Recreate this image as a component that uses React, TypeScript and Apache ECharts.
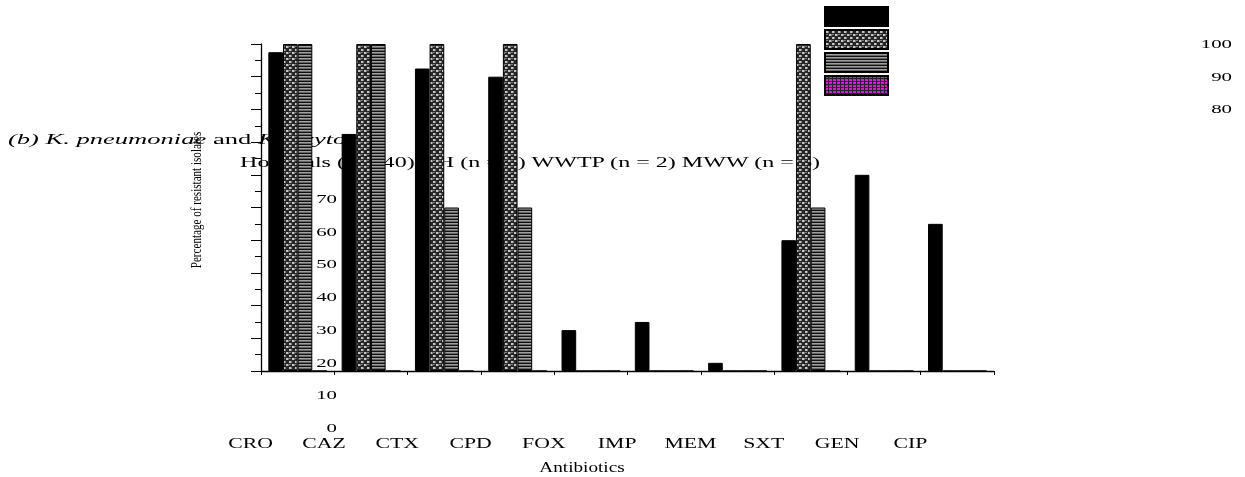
import React, { useEffect, useRef } from "react";
import * as echarts from "echarts";

const categories = ["CRO", "CAZ", "CTX", "CPD", "FOX", "IMP", "MEM", "SXT", "GEN", "CIP"];
const seriesNames = ["Hospitals (n = 40)", "CH (n = 4)", "WWTP (n = 2)", "MWW (n = 6)"];
const hospitals = [97.5, 72.5, 92.5, 90, 12.5, 15, 2.5, 40, 60, 45];
const ch = [100, 100, 100, 100, 0, 0, 0, 100, 0, 0];
const wwtp = [100, 100, 50, 50, 0, 0, 0, 50, 0, 0];
const mww = [0, 0, 0, 0, 0, 0, 0, 0, 0, 0];
const rightTickLabels = [100, 90, 80];
const leftTickLabels = [70, 60, 50, 40, 30, 20, 10, 0];
const legendLine = "Hospitals (n = 40) CH (n = 4) WWTP (n = 2) MWW (n = 6)";
const titleText = "{i|(b) K. pneumoniae} and {i|K. oxytoca}";
const yTitle = "Percentage of resistant isolates";
const xTitle = "Antibiotics";

const FONT = "Liberation Serif";

function makePattern(w: number, h: number, draw: (ctx: CanvasRenderingContext2D) => void) {
  const c = document.createElement("canvas");
  c.width = w;
  c.height = h;
  const ctx = c.getContext("2d") as CanvasRenderingContext2D;
  draw(ctx);
  return { image: c, repeat: "repeat", imageWidth: w, imageHeight: h };
}

export default function App() {
  const ref = useRef<HTMLDivElement>(null);
  useEffect(() => {
    if (!ref.current) return;
    const chart = echarts.init(ref.current, null, { renderer: "svg" });

    const cross = makePattern(6, 6, (ctx) => {
      ctx.fillStyle = "#262626";
      ctx.fillRect(0, 0, 6, 6);
      ctx.fillStyle = "#c4c4c4";
      ctx.fillRect(1, 1, 2, 2);
      ctx.fillRect(4, 4, 2, 2);
      ctx.fillStyle = "#7a7a7a";
      ctx.fillRect(3, 1, 1, 2);
      ctx.fillRect(0, 4, 1, 2);
      ctx.fillRect(1, 4, 2, 1);
    });
    const stripes = makePattern(4, 3, (ctx) => {
      ctx.fillStyle = "#111";
      ctx.fillRect(0, 0, 4, 1);
      ctx.fillStyle = "#9e9e9e";
      ctx.fillRect(0, 1, 4, 1);
      ctx.fillStyle = "#666";
      ctx.fillRect(0, 2, 4, 1);
    });
    const magenta = makePattern(4, 3, (ctx) => {
      ctx.fillStyle = "#ff00ff";
      ctx.fillRect(0, 0, 4, 3);
      ctx.fillStyle = "#222";
      ctx.fillRect(3, 0, 1, 3);
      ctx.fillRect(0, 2, 4, 1);
    });

    const colors: any[] = ["#000", cross, stripes, magenta];
    const datas = [hospitals, ch, wwtp, mww];

    chart.setOption({
      animation: false,
      grid: { left: 261, top: 44, width: 733, height: 327 },
      xAxis: [
        {
          type: "category",
          data: categories,
          axisLine: { lineStyle: { color: "#000", width: 1.3 } },
          axisTick: { alignWithLabel: true, interval: 0, length: 7, lineStyle: { color: "#000" } },
          axisLabel: { show: false, interval: 0 },
          splitLine: { show: false },
        },
        {
          type: "category",
          data: categories,
          position: "bottom",
          axisLine: { show: false },
          axisTick: { show: true, interval: 0, length: 4, lineStyle: { color: "#000" } },
          axisLabel: { show: false, interval: 0 },
          splitLine: { show: false },
        },
      ],
      yAxis: {
        type: "value",
        min: 0,
        max: 100,
        interval: 10,
        axisLine: { show: true, lineStyle: { color: "#000", width: 1.3 } },
        axisTick: { show: true, length: 10, lineStyle: { color: "#000" } },
        minorTick: { show: true, splitNumber: 2, length: 6, lineStyle: { color: "#000" } },
        axisLabel: { show: false },
        splitLine: { show: false },
      },
      legend: {
        show: true,
        orient: "vertical",
        left: 824,
        top: 6,
        padding: 0,
        itemWidth: 63,
        itemHeight: 19,
        itemGap: 2,
        icon: "rect",
        selectedMode: false,
        data: seriesNames,
        formatter: () => "",
      },
      series: seriesNames.map((name, i) => ({
        type: "bar",
        name,
        data: datas[i],
        xAxisIndex: 0,
        yAxisIndex: 0,
        barGap: "0%",
        barCategoryGap: "20%",
        z: 3,
        itemStyle: { color: colors[i], borderColor: "#000", borderWidth: 1 },
      })),
    });

    const yPix = (v: number) => chart.convertToPixel({ yAxisIndex: 0 }, v) as number;
    const xPix = (c: string) => chart.convertToPixel({ xAxisIndex: 0 }, c) as number;
    const S = 1.67;
    const els: any[] = [];
    rightTickLabels.forEach((v) => {
      els.push({
        type: "text", x: 1232, y: yPix(v), scaleX: S, z: 0,
        style: { text: String(v), fontFamily: FONT, fontSize: 12.5, fill: "#000", align: "right", verticalAlign: "middle" },
      });
    });
    leftTickLabels.forEach((v) => {
      els.push({
        type: "text", x: 337, y: yPix(v) + 57, scaleX: S, z: 0,
        style: { text: String(v), fontFamily: FONT, fontSize: 12.5, fill: "#000", align: "right", verticalAlign: "middle" },
      });
    });
    categories.forEach((c) => {
      els.push({
        type: "text", x: xPix(c) - 47, y: 443, scaleX: 1.45, z: 0,
        style: { text: c, fontFamily: FONT, fontSize: 15, fill: "#000", align: "center", verticalAlign: "middle" },
      });
    });
    els.push({
      type: "text", x: 582, y: 467, scaleX: 1.28, z: 0,
      style: { text: xTitle, fontFamily: FONT, fontSize: 15, fill: "#000", align: "center", verticalAlign: "middle" },
    });
    els.push({
      type: "text", x: 8, y: 139, scaleX: 1.77, z: 0,
      style: {
        text: titleText, fontFamily: FONT, fontSize: 15, fill: "#000", align: "left", verticalAlign: "middle",
        rich: { i: { fontStyle: "italic", fontFamily: FONT, fontSize: 15, fill: "#000" } },
      },
    });
    els.push({
      type: "text", x: 240, y: 162, scaleX: 1.72, z: 0,
      style: { text: legendLine, fontFamily: FONT, fontSize: 14, fill: "#000", align: "left", verticalAlign: "middle" },
    });
    els.push({
      type: "text", x: 196, y: 200, rotation: Math.PI / 2, scaleX: 0.74, z: 0,
      style: { text: yTitle, fontFamily: FONT, fontSize: 15, fill: "#000", align: "center", verticalAlign: "middle" },
    });
    chart.setOption({ graphic: { elements: els } });

    return () => chart.dispose();
  }, []);
  return <div ref={ref} style={{ position: "fixed", left: 0, top: 0, width: 1245, height: 477 }} />;
}
